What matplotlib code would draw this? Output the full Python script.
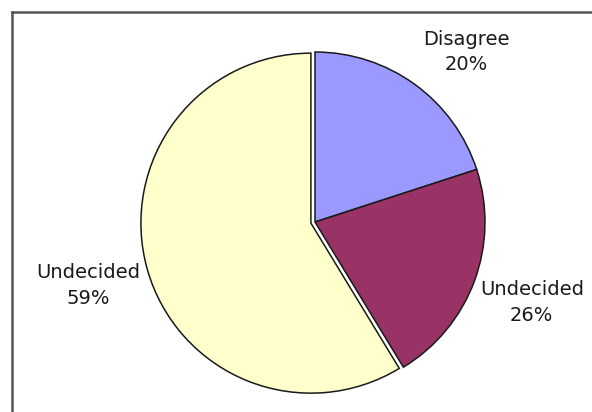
import matplotlib
matplotlib.use("Agg")
import matplotlib.pyplot as plt
from matplotlib.lines import Line2D

# slice sizes as drawn, and the label text shown on the chart
names = ["Disagree", "Undecided", "Undecided"]
sizes = [20, 21.3, 58.7]
pct_text = ["20%", "26%", "59%"]
colors = ["#9999FF", "#993366", "#FFFFCC"]
explode = [0, 0, 0.025]

fig = plt.figure(figsize=(5.92, 4.12), dpi=100)
fig.patch.set_facecolor("white")

# frame of the chart area (only left and top edges are visible)
fig.add_artist(Line2D([11.5 / 592, 11.5 / 592], [0, 1 - 11.5 / 412],
                      transform=fig.transFigure, color="#555555", lw=1.8))
fig.add_artist(Line2D([11.5 / 592, 1], [1 - 11.5 / 412, 1 - 11.5 / 412],
                      transform=fig.transFigure, color="#555555", lw=1.8))

ax = fig.add_axes([0, 0, 1, 1])
labels = [n + "\n" + p for n, p in zip(names, pct_text)]
wedges, texts = ax.pie(sizes, labels=labels, colors=colors, explode=explode,
                       startangle=90, counterclock=False, radius=1,
                       labeldistance=1.36,
                       wedgeprops=dict(edgecolor="#1a1a1a", linewidth=1.1),
                       textprops=dict(fontsize=14, color="#1a1a1a",
                                      ha="center", va="center",
                                      linespacing=1.45,
                                      family="DejaVu Sans"))
# the Disagree label sits a little lower and further right
texts[0].set_position((0.89, 1.0))

# pixel geometry: centre at (315, 222), radius 170 px
r_px = 170.0
ax.set_xlim(-315 / r_px, (592 - 315) / r_px)
ax.set_ylim(-(412 - 222) / r_px, 222 / r_px)
ax.axis("off")

fig.savefig("out.png", dpi=100, facecolor="white")
